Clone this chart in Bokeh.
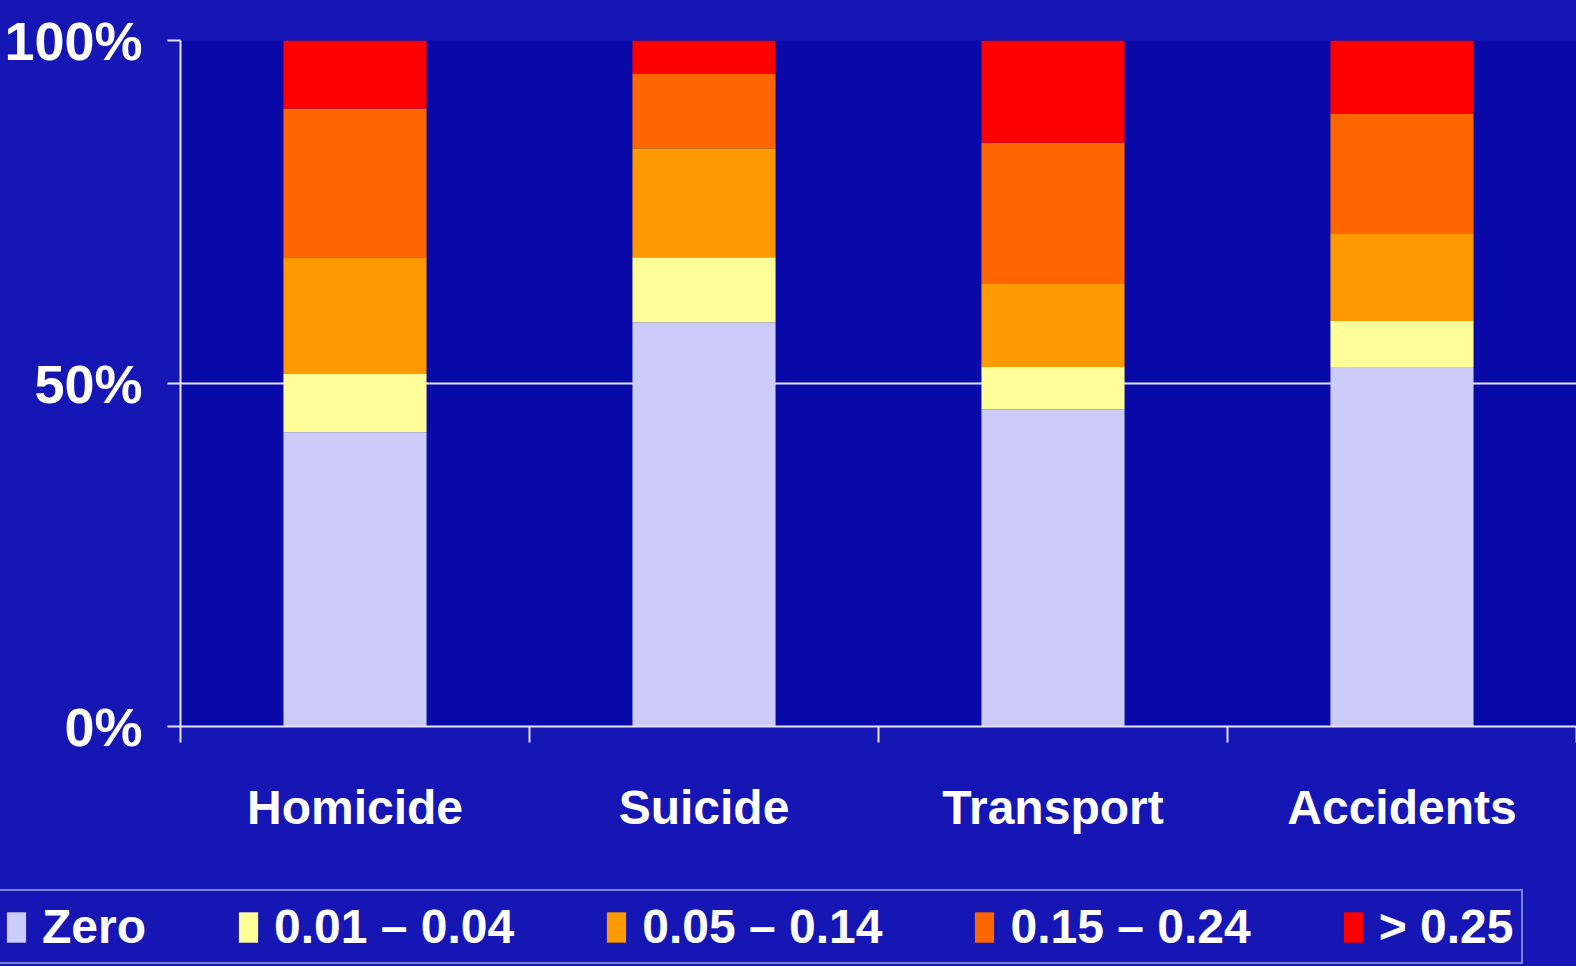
from bokeh.plotting import figure
from bokeh.layouts import column
from bokeh.models import (ColumnDataSource, Range1d, LinearAxis, FixedTicker, PrintfTickFormatter,
                          Legend, LegendItem)
from bokeh.embed import file_html
from bokeh.resources import INLINE

categories = ["Homicide", "Suicide", "Transport", "Accidents"]
series_labels = ["Zero", "0.01 \u2013 0.04", "0.05 \u2013 0.14", "0.15 \u2013 0.24", "> 0.25"]
zero = [42.9, 58.9, 46.2, 52.4]
low = [8.5, 9.5, 6.2, 6.7]
mid = [17.0, 15.9, 12.1, 12.7]
high = [21.7, 10.9, 20.6, 17.5]
top = [9.9, 4.8, 14.9, 10.7]
y_ticks = [0, 50, 100]

colors = ["#ccccfa", "#ffff99", "#ff9900", "#ff6600", "#ff0000"]
keys = ["zero", "low", "mid", "high", "top"]
FONT = "Liberation Sans"
BG_PLOT = "#0a0aa8"
BG_OUT = "#1616b4"
LINE = "#e4e4ff"

n = len(categories)
centers = [i + 0.5 for i in range(n)]
edges = list(range(n + 1))
source = ColumnDataSource(dict(x=centers, cat=categories, zero=zero, low=low, mid=mid, high=high, top=top))

# ---------------- main chart ----------------
p = figure(width=1576, height=870, x_range=Range1d(0, n), y_range=Range1d(0, 100),
           output_backend="svg", toolbar_location=None,
           x_axis_location=None, y_axis_location="left",
           min_border_top=40, min_border_left=180, min_border_right=0, min_border_bottom=144)
p.frame_align = False
p.background_fill_color = BG_PLOT
p.border_fill_color = BG_OUT
p.outline_line_color = None
p.xgrid.visible = False

renderers = p.vbar_stack(keys, x="x", width=0.41, source=source, color=colors, line_color=None)

ya = p.yaxis[0]
ya.ticker = FixedTicker(ticks=y_ticks)
ya.formatter = PrintfTickFormatter(format="%d%%")
ya.axis_line_color = LINE
ya.axis_line_width = 2
ya.major_tick_line_color = LINE
ya.major_tick_line_width = 2
ya.major_tick_out = 13
ya.major_tick_in = 0
ya.minor_tick_line_color = None
ya.major_label_standoff = 25
ya.major_label_text_color = "white"
ya.major_label_text_font = FONT
ya.major_label_text_font_style = "bold"
ya.major_label_text_font_size = "54px"

p.ygrid.ticker = FixedTicker(ticks=[50, 100])
p.ygrid.grid_line_color = LINE
p.ygrid.grid_line_width = 2

xa = LinearAxis(ticker=FixedTicker(ticks=centers, minor_ticks=edges),
                major_label_overrides={c: name for c, name in zip(centers, categories)},
                axis_line_color=LINE, axis_line_width=2,
                major_tick_line_color=None, major_tick_out=0, major_tick_in=0,
                minor_tick_line_color=LINE, minor_tick_line_width=2, minor_tick_out=16, minor_tick_in=0,
                major_label_standoff=38, major_label_text_color="white",
                major_label_text_font=FONT, major_label_text_font_style="bold",
                major_label_text_font_size="48px")
p.add_layout(xa, "below")

# ---------------- legend strip ----------------
pl = figure(width=1576, height=96, x_range=Range1d(0, n), y_range=Range1d(1000, 1100),
            output_backend="svg", toolbar_location=None,
            x_axis_location=None, y_axis_location=None,
            min_border_top=0, min_border_left=0, min_border_right=0, min_border_bottom=0)
pl.frame_align = False
pl.background_fill_color = BG_OUT
pl.border_fill_color = BG_OUT
pl.outline_line_color = None
pl.xgrid.visible = False
pl.ygrid.visible = False
legend_renderers = pl.vbar_stack(keys, x="x", width=0.41, source=source, color=colors, line_color=None)

legend = Legend(items=[LegendItem(label=lab, renderers=[r]) for lab, r in zip(series_labels, legend_renderers)],
                orientation="horizontal", location=(-6, 2),
                label_text_color="white", label_text_font=FONT, label_text_font_style="bold",
                label_text_font_size="48px", glyph_width=24, glyph_height=38, label_standoff=14,
                spacing=90, padding=8, margin=0, border_line_color=LINE, border_line_width=2,
                background_fill_alpha=0)
pl.add_layout(legend, "center")

root = column(p, pl, spacing=0, styles={"background-color": BG_OUT})
open("out.html", "w").write(file_html(root, INLINE))
